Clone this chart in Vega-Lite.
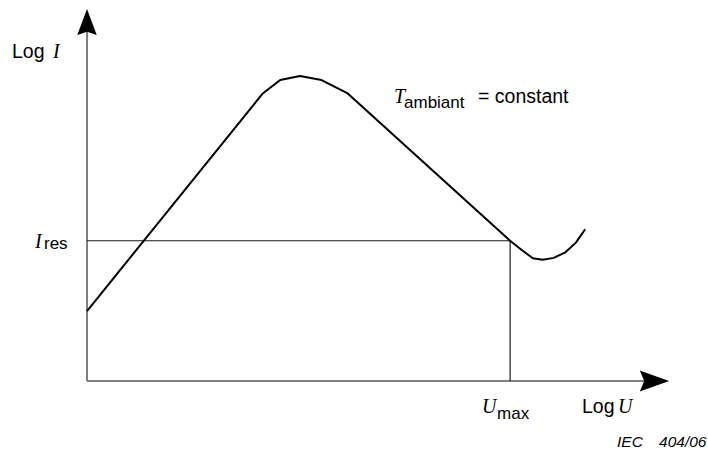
{
  "$schema": "https://vega.github.io/schema/vega-lite/v6.json",
  "width": 582,
  "height": 372,
  "autosize": {"type": "none"},
  "padding": {"left": 87, "top": 9, "right": 39, "bottom": 73},
  "background": "white",
  "config": {"view": {"stroke": null}},
  "data": {"name": "refs"},
  "encoding": {
    "x": {"type": "quantitative", "scale": {"domain": [0, 100], "nice": false, "zero": false}, "axis": null},
    "y": {"type": "quantitative", "scale": {"domain": [0, 100], "nice": false, "zero": false}, "axis": null}
  },
  "datasets": {
    "curve": [
      {"x": 0, "y": 18.8},
      {"x": 30.2, "y": 77.3},
      {"x": 33.2, "y": 80.9},
      {"x": 36.6, "y": 82.0},
      {"x": 40.3, "y": 80.9},
      {"x": 44.8, "y": 77.3},
      {"x": 72.7, "y": 37.7},
      {"x": 74.7, "y": 35.2},
      {"x": 76.6, "y": 33.0},
      {"x": 78.3, "y": 32.6},
      {"x": 80.2, "y": 33.1},
      {"x": 82.2, "y": 34.6},
      {"x": 84.0, "y": 37.2},
      {"x": 85.6, "y": 40.8}
    ],
    "refs": [{"origin": 0, "umax": 72.7, "ires": 37.7, "xend": 96.7, "yend": 94.4}],
    "arrowUp": [{"x": 0, "y": 96.5}],
    "arrowRight": [{"x": 97.5, "y": 0}],
    "serif": [
      {"text": "I", "x": -5.84, "y": 86.8},
      {"text": "I", "x": -8.93, "y": 35.75},
      {"text": "T", "x": 52.75, "y": 74.6},
      {"text": "U", "x": 67.87, "y": -8.6},
      {"text": "U", "x": 91.24, "y": -8.6}
    ],
    "sans": [
      {"text": "Log", "x": -12.89, "y": 86.8},
      {"text": "= constant", "x": 67.18, "y": 74.6},
      {"text": "Log", "x": 85.05, "y": -8.6}
    ],
    "subs": [
      {"text": "res", "x": -7.39, "y": 35.5},
      {"text": "ambiant", "x": 54.47, "y": 73.52},
      {"text": "max", "x": 70.45, "y": -10.2}
    ],
    "source": [
      {"text": "IEC", "x": 91.07, "y": -17.74}
    ],
    "sourceNum": [
      {"text": "404/06", "x": 106.44, "y": -17.74}
    ]
  },
  "layer": [
    {
      "mark": {"type": "rule", "color": "#7f7f7f", "strokeWidth": 2},
      "encoding": {
        "x": {"field": "origin"},
        "y": {"field": "origin"},
        "y2": {"field": "yend"}
      }
    },
    {
      "mark": {"type": "rule", "color": "#7f7f7f", "strokeWidth": 2},
      "encoding": {
        "x": {"field": "origin"},
        "x2": {"field": "xend"},
        "y": {"field": "origin"}
      }
    },
    {
      "mark": {"type": "rule", "color": "#1a1a1a", "strokeWidth": 1.2},
      "encoding": {
        "x": {"field": "origin"},
        "x2": {"field": "umax"},
        "y": {"field": "ires"}
      }
    },
    {
      "mark": {"type": "rule", "color": "#1a1a1a", "strokeWidth": 1.2},
      "encoding": {
        "x": {"field": "umax"},
        "y": {"field": "origin"},
        "y2": {"field": "ires"}
      }
    },
    {
      "data": {"name": "curve"},
      "mark": {"type": "line", "color": "black", "strokeWidth": 2, "strokeJoin": "round"},
      "encoding": {
        "x": {"field": "x"},
        "y": {"field": "y"}
      }
    },
    {
      "data": {"name": "arrowUp"},
      "mark": {"type": "point", "shape": "M0,-1L0.75,1L0,0.75L-0.75,1Z", "size": 676, "filled": true, "opacity": 1, "color": "black", "strokeWidth": 0},
      "encoding": {
        "x": {"field": "x"},
        "y": {"field": "y"}
      }
    },
    {
      "data": {"name": "arrowRight"},
      "mark": {"type": "point", "shape": "M0,-1L0.72,1L0,0.7L-0.72,1Z", "size": 858, "angle": 90, "filled": true, "opacity": 1, "color": "black", "strokeWidth": 0},
      "encoding": {
        "x": {"field": "x"},
        "y": {"field": "y"}
      }
    },
    {
      "data": {"name": "serif"},
      "mark": {"type": "text", "font": "Liberation Serif", "fontStyle": "italic", "fontSize": 20, "align": "left", "baseline": "alphabetic", "color": "black"},
      "encoding": {
        "x": {"field": "x"},
        "y": {"field": "y"},
        "text": {"field": "text"}
      }
    },
    {
      "data": {"name": "sans"},
      "mark": {"type": "text", "font": "Liberation Sans", "fontSize": 19.5, "align": "left", "baseline": "alphabetic", "color": "black"},
      "encoding": {
        "x": {"field": "x"},
        "y": {"field": "y"},
        "text": {"field": "text"}
      }
    },
    {
      "data": {"name": "subs"},
      "mark": {"type": "text", "font": "Liberation Sans", "fontSize": 17, "align": "left", "baseline": "alphabetic", "color": "black"},
      "encoding": {
        "x": {"field": "x"},
        "y": {"field": "y"},
        "text": {"field": "text"}
      }
    },
    {
      "data": {"name": "source"},
      "mark": {"type": "text", "font": "Liberation Sans", "fontStyle": "italic", "fontSize": 15.5, "align": "left", "baseline": "alphabetic", "color": "black"},
      "encoding": {
        "x": {"field": "x"},
        "y": {"field": "y"},
        "text": {"field": "text"}
      }
    },
    {
      "data": {"name": "sourceNum"},
      "mark": {"type": "text", "font": "Liberation Sans", "fontStyle": "italic", "fontSize": 15.5, "align": "right", "baseline": "alphabetic", "color": "black"},
      "encoding": {
        "x": {"field": "x"},
        "y": {"field": "y"},
        "text": {"field": "text"}
      }
    }
  ]
}
